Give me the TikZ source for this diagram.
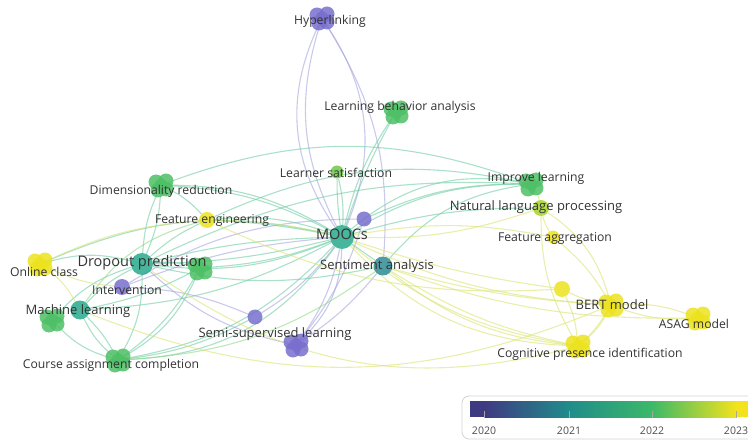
\documentclass[tikz,border=0pt]{standalone}
\usepackage{fontspec}
\setsansfont{Open Sans}
\usetikzlibrary{backgrounds}

\definecolor{vpurple}{RGB}{120,110,205}
\definecolor{vteal}{RGB}{40,168,140}
\definecolor{vblue}{RGB}{45,140,150}
\definecolor{vgreen}{RGB}{78,192,102}
\definecolor{vlime}{RGB}{110,200,70}
\definecolor{volive}{RGB}{165,212,40}
\definecolor{vyellow}{RGB}{236,226,30}
\definecolor{elav}{RGB}{165,165,222}
\definecolor{emint}{RGB}{112,205,165}
\definecolor{egreen}{RGB}{145,218,135}
\definecolor{eyel}{RGB}{218,228,115}
\definecolor{c2020}{RGB}{62,58,130}
\definecolor{c2021}{RGB}{32,140,138}
\definecolor{c2022}{RGB}{60,185,105}
\definecolor{c2023}{RGB}{242,227,28}

\tikzset{
  dot/.style={circle, fill=#1, inner sep=0pt, fill opacity=.85},
  lbl/.style={font=\sffamily\fontsize{12.2}{14}\selectfont, text=black!80, inner sep=0pt},
  midlbl/.style={lbl, font=\sffamily\fontsize{13}{15}\selectfont},
  biglbl/.style={lbl, font=\sffamily\fontsize{14.5}{17}\selectfont},
  link/.style={line width=1.1pt, draw opacity=.6},
}

% one keyword = a few overlapping bubbles
\newcommand\Cluster[4]{%
  \foreach \dx/\dy in {-5/-3,5/-4,-3/5,5/4}
    \fill[#4, opacity=.85] (#2+\dx,#3+\dy) circle (7.5pt);
  \node[dot=#4, minimum size=13pt] (#1) at (#2,#3) {};}

\begin{document}
\begin{tikzpicture}[x=1pt,y=-1pt]
\useasboundingbox (0,0) rectangle (748,441);

% keywords
\Cluster{hyper}{322}{18}{vpurple}
\Cluster{lba}{396}{112}{vgreen}
\node[dot=vlime, minimum size=13pt] (lsat) at (337,172) {};
\node[dot=vteal, minimum size=24pt] (moocs) at (342,237) {};
\node[dot=vpurple, minimum size=15pt] (purp) at (364,219) {};
\node[dot=vblue, minimum size=19pt] (sent) at (383,266) {};
\Cluster{impl}{531}{184}{vgreen}
\node[dot=volive, minimum size=16pt] (nlp) at (541,208) {};
\node[dot=vyellow, minimum size=13pt] (fagg) at (553,237) {};
\node[dot=vyellow, minimum size=16pt] (yel) at (562,289) {};
\Cluster{bert}{611}{305}{vyellow}
\Cluster{asag}{698}{318}{vyellow}
\Cluster{cog}{578}{346}{vyellow}
\Cluster{dim}{161}{185}{vgreen}
\node[dot=vyellow, minimum size=16pt] (feng) at (207,220) {};
\node[dot=vteal, minimum size=22pt] (drop) at (142,264) {};
\Cluster{grn}{200}{268}{vgreen}
\Cluster{online}{40}{264}{vyellow}
\node[dot=vpurple, minimum size=16pt] (interv) at (122,287) {};
\node[dot=vteal, minimum size=19pt] (ml) at (80,310) {};
\Cluster{mlg}{52}{320}{vgreen}
\Cluster{course}{118}{360}{vgreen}
\node[dot=vpurple, minimum size=15pt] (semi) at (255,317) {};
\Cluster{semib}{296}{345}{vpurple}

% co-occurrence links
\begin{scope}[on background layer]
\draw[link, elav] (hyper) to[bend right=30] (moocs);
\draw[link, elav] (hyper) to[bend right=22] (moocs);
\draw[link, elav] (hyper) to[bend left=18] (sent);
\draw[link, elav] (hyper) to[bend left=28] (moocs);
\draw[link, elav] (purp) to[bend left=10] (semib);
\draw[link, elav] (purp) to[bend right=15] (interv);
\draw[link, elav] (semi) to[bend right=10] (moocs);
\draw[link, elav] (semib) to[bend right=12] (moocs);
\draw[link, elav] (semib) to[bend right=22] (moocs);
\draw[link, elav] (semib) to[bend left=15] (drop);
\draw[link, elav] (semib) to[bend right=8] (sent);
\draw[link, elav] (interv) to[bend left=10] (semi);
\draw[link, elav] (interv) to[bend left=8] (moocs);
\draw[link, emint] (moocs) to[bend left=10] (lba);
\draw[link, emint] (moocs) to[bend left=5] (lba);
\draw[link, emint] (moocs) to[bend right=8] (lsat);
\draw[link, emint] (moocs) to[bend left=4] (lsat);
\draw[link, emint] (moocs) to[bend left=15] (impl);
\draw[link, emint] (moocs) to[bend left=25] (impl);
\draw[link, emint] (purp) to[bend left=12] (impl);
\draw[link, emint] (sent) to[bend left=20] (impl);
\draw[link, emint] (moocs) to[bend left=8] (nlp);
\draw[link, emint] (impl) to[bend right=18] (feng);
\draw[link, emint] (impl) to[bend right=20] (dim);
\draw[link, emint] (impl) to[bend right=14] (drop);
\draw[link, emint] (moocs) to[bend right=6] (drop);
\draw[link, emint] (moocs) to[bend left=6] (drop);
\draw[link, emint] (moocs) to[bend left=14] (drop);
\draw[link, emint] (moocs) to[bend right=12] (feng);
\draw[link, emint] (moocs) to[bend right=4] (feng);
\draw[link, emint] (moocs) to[bend right=15] (dim);
\draw[link, emint] (moocs) to[bend right=18] (online);
\draw[link, emint] (moocs) to[bend left=12] (ml);
\draw[link, emint] (moocs) to[bend left=18] (course);
\draw[link, emint] (moocs) to[bend left=26] (course);
\draw[link, emint] (moocs) to[bend left=8] (grn);
\draw[link, emint] (moocs) to (sent);
\draw[link, emint] (sent) to[bend left=12] (drop);
\draw[link, emint] (drop) to[bend right=10] (ml);
\draw[link, emint] (drop) to[bend right=15] (online);
\draw[link, emint] (drop) to[bend left=15] (course);
\draw[link, emint] (drop) to[bend left=10] (dim);
\draw[link, emint] (drop) to[bend right=10] (dim);
\draw[link, emint] (drop) to[bend left=8] (feng);
\draw[link, emint] (drop) to[bend left=10] (grn);
\draw[link, emint] (ml) to[bend left=8] (course);
\draw[link, emint] (ml) to[bend right=12] (course);
\draw[link, emint] (ml) to[bend right=8] (grn);
\draw[link, emint] (mlg) to[bend left=15] (drop);
\draw[link, emint] (mlg) to[bend right=15] (course);
\draw[link, emint] (course) to[bend right=12] (grn);
\draw[link, emint] (course) to[bend right=18] (grn);
\draw[link, emint] (course) to[bend right=10] (semi);
\draw[link, emint] (dim) to[bend left=10] (feng);
\draw[link, emint] (dim) to[bend left=12] (moocs);
\draw[link, egreen] (ml) to[bend left=20] (feng);
\draw[link, egreen] (course) to[bend right=16] (sent);
\draw[link, eyel] (online) to[bend left=10] (feng);
\draw[link, eyel] (online) to[bend left=12] (ml);
\draw[link, eyel] (online) to[bend right=10] (interv);
\draw[link, eyel] (feng) to[bend left=6] (moocs);
\draw[link, eyel] (moocs) to[bend left=10] (fagg);
\draw[link, eyel] (moocs) to[bend right=10] (bert);
\draw[link, eyel] (moocs) to[bend right=15] (cog);
\draw[link, eyel] (moocs) to[bend right=22] (cog);
\draw[link, eyel] (moocs) to[bend right=5] (yel);
\draw[link, eyel] (sent) to[bend right=10] (cog);
\draw[link, eyel] (sent) to[bend right=16] (cog);
\draw[link, eyel] (sent) to[bend right=6] (bert);
\draw[link, eyel] (sent) to[bend right=10] (asag);
\draw[link, eyel] (drop) to[bend right=25] (cog);
\draw[link, eyel] (ml) to[bend right=22] (bert);
\draw[link, eyel] (feng) to[bend right=14] (yel);
\draw[link, eyel] (bert) to[bend left=12] (asag);
\draw[link, eyel] (bert) to[bend right=12] (asag);
\draw[link, eyel] (bert) to[bend left=12] (cog);
\draw[link, eyel] (bert) to[bend left=8] (cog);
\draw[link, eyel] (bert) to[bend right=10] (fagg);
\draw[link, eyel] (bert) to[bend right=20] (nlp);
\draw[link, eyel] (bert) to[bend left=8] (yel);
\draw[link, eyel] (cog) to[bend left=15] (nlp);
\draw[link, eyel] (cog) to[bend right=10] (yel);
\draw[link, eyel] (nlp) to[bend right=10] (impl);
\draw[link, eyel] (fagg) to[bend left=10] (nlp);
\draw[link, eyel] (nlp) to[bend left=10] (moocs);
\end{scope}

% labels
\node[lbl] (hyper-l) at (330,21) {Hyperlinking};
\node[lbl] (lba-l) at (400,107) {Learning behavior analysis};
\node[lbl] (lsat-l) at (336,173) {Learner satisfaction};
\node[biglbl] (moocs-l) at (342,234) {MOOCs};
\node[midlbl] (sent-l) at (377,266) {Sentiment analysis};
\node[lbl] (impl-l) at (536,178) {Improve learning};
\node[midlbl] (nlp-l) at (536,207) {Natural language processing};
\node[lbl] (fagg-l) at (555,238) {Feature aggregation};
\node[midlbl] (bert-l) at (612,305) {BERT model};
\node[lbl] (asag-l) at (694,324) {ASAG model};
\node[lbl] (cog-l) at (590,354) {Cognitive presence identification};
\node[lbl] (dim-l) at (161,191) {Dimensionality reduction};
\node[lbl] (feng-l) at (212,220) {Feature engineering};
\node[biglbl] (drop-l) at (142,263) {Dropout prediction};
\node[lbl] (online-l) at (44,272) {Online class};
\node[lbl] (interv-l) at (127,290) {Intervention};
\node[midlbl] (ml-l) at (78,311) {Machine learning};
\node[lbl] (course-l) at (111,365) {Course assignment completion};
\node[midlbl] (semi-l) at (275,334) {Semi-supervised learning};

% year scale
\begin{scope}
\clip (0,0) rectangle (748,441);
\draw[black!18, line width=.8pt, rounded corners=7pt] (462,396) rectangle (775,439);
\fill[c2020] (470,401) rectangle (484,417);
\shade[left color=c2020, right color=c2021] (484,401) rectangle (569,417);
\shade[left color=c2021, right color=c2022] (569,401) rectangle (652,417);
\shade[left color=c2022, right color=c2023] (652,401) rectangle (736,417);
\fill[c2023] (736,401) rectangle (760,417);
\foreach \x/\yr in {484/2020,569/2021,652/2022,736/2023}{
  \draw[black!35, line width=.6pt] (\x,411) -- (\x,418);
  \node[lbl, font=\sffamily\fontsize{10.5}{12}\selectfont, text=black!70] (y\yr) at (\x,431) {\yr};}
\end{scope}
\end{tikzpicture}
\end{document}
